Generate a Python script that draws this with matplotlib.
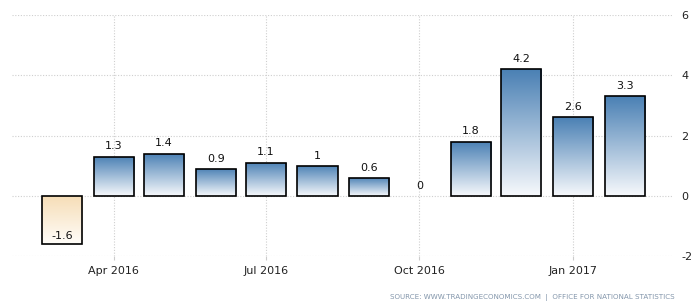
import numpy as np
import matplotlib
matplotlib.use('Agg')
import matplotlib.pyplot as plt
import matplotlib.dates as mdates
from matplotlib.colors import LinearSegmentedColormap
from datetime import datetime

plt.rcParams['axes.unicode_minus'] = False

months = ['2016-03', '2016-04', '2016-05', '2016-06', '2016-07', '2016-08',
          '2016-09', '2016-10', '2016-11', '2016-12', '2017-01', '2017-02']
values = [-1.6, 1.3, 1.4, 0.9, 1.1, 1.0, 0.6, 0.0, 1.8, 4.2, 2.6, 3.3]
labels = ['-1.6', '1.3', '1.4', '0.9', '1.1', '1', '0.6', '0', '1.8', '4.2', '2.6', '3.3']
tick_dates = ['2016-04', '2016-07', '2016-10', '2017-01']
tick_labels = ['Apr 2016', 'Jul 2016', 'Oct 2016', 'Jan 2017']
yticks = [-2, 0, 2, 4, 6]

blue = LinearSegmentedColormap.from_list('b', ['#f7f9fc', '#4a80b4'])
tan = LinearSegmentedColormap.from_list('t', ['#fffdf9', '#f6ddb6'])

fig = plt.figure(figsize=(6.98, 3.08), dpi=100)
ax = fig.add_axes([0.0172, 0.169, 0.947, 0.782])

dates = [datetime.strptime(m, '%Y-%m') for m in months]
xs = mdates.date2num(dates)
width = 24
grad = np.linspace(0, 1, 256).reshape(-1, 1)

for x, v, lab in zip(xs, values, labels):
    if v != 0:
        cmap = blue if v > 0 else tan
        lo, hi = min(0, v), max(0, v)
        im = ax.imshow(grad, cmap=cmap, origin='lower', aspect='auto',
                       extent=[x - width / 2, x + width / 2, lo, hi], zorder=2)
        rect = plt.Rectangle((x - width / 2, lo), width, hi - lo, fill=False,
                             edgecolor='black', linewidth=1.2, zorder=3)
        ax.add_patch(rect)
        im.set_clip_path(rect)
    if v >= 0:
        ax.text(x, v + 0.17, lab, ha='center', va='bottom', fontsize=8, color='#111111')
    else:
        ax.text(x, v + 0.1, lab, ha='center', va='bottom', fontsize=8, color='#111111')

ax.set_xlim(mdates.date2num(datetime(2016, 1, 31)), mdates.date2num(datetime(2017, 3, 2)))
ax.set_ylim(-2, 6)
ax.set_xticks(mdates.date2num([datetime.strptime(d, '%Y-%m') for d in tick_dates]))
ax.set_xticklabels(tick_labels)
ax.set_yticks(yticks)
ax.yaxis.tick_right()
ax.tick_params(axis='x', length=3, color='#cccccc', labelsize=8, pad=4, labelcolor='#222222')
ax.tick_params(axis='y', length=0, labelsize=8, pad=6, labelcolor='#222222')
for s in ax.spines.values():
    s.set_visible(False)
ax.grid(True, linestyle=(0, (1, 1.5)), color='#cfcfcf', linewidth=0.8, zorder=0)
ax.set_axisbelow(True)

fig.text(0.967, 0.022, 'SOURCE: WWW.TRADINGECONOMICS.COM  |  OFFICE FOR NATIONAL STATISTICS',
         ha='right', va='bottom', fontsize=5.1, color='#8396ab')

fig.savefig('out.png', dpi=100)
